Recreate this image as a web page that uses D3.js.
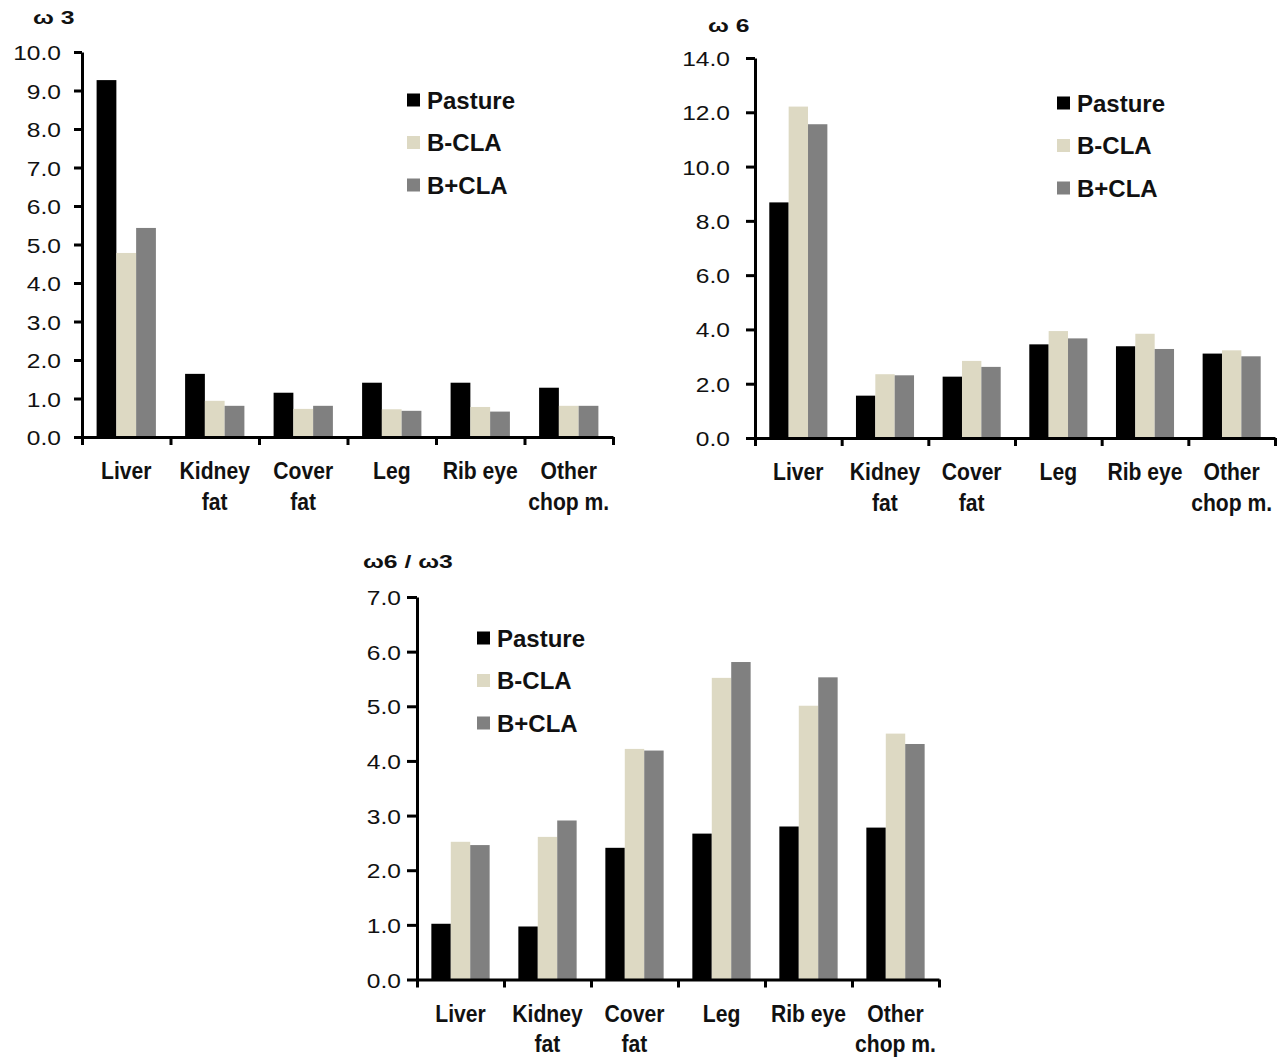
<!DOCTYPE html>
<html><head><meta charset="utf-8">
<script src="https://cdn.jsdelivr.net/npm/d3@7"></script>
<style>
body{margin:0;background:#fff;}
svg{display:block;font-family:"Liberation Sans",Arial,sans-serif;}
</style></head>
<body>
<svg id="chart" width="1279" height="1062"></svg>
<script>
const categories = [["Liver"],["Kidney","fat"],["Cover","fat"],["Leg"],["Rib eye"],["Other","chop m."]];
const series = ["Pasture","B-CLA","B+CLA"];
const colors = ["#000000","#DDD9C3","#808080"];

const omega3Pasture = [9.27,1.64,1.15,1.41,1.41,1.28];
const omega3BminusCLA = [4.78,0.94,0.73,0.72,0.78,0.81];
const omega3BplusCLA = [5.43,0.81,0.81,0.68,0.66,0.81];
const omega3Ticks = [0,1,2,3,4,5,6,7,8,9,10];

const omega6Pasture = [8.68,1.56,2.26,3.45,3.38,3.11];
const omega6BminusCLA = [12.21,2.35,2.84,3.94,3.84,3.23];
const omega6BplusCLA = [11.56,2.31,2.62,3.67,3.28,3.01];
const omega6Ticks = [0,2,4,6,8,10,12,14];

const ratioPasture = [1.02,0.97,2.41,2.67,2.80,2.78];
const ratioBminusCLA = [2.52,2.61,4.22,5.52,5.01,4.50];
const ratioBplusCLA = [2.46,2.91,4.19,5.81,5.53,4.31];
const ratioTicks = [0,1,2,3,4,5,6,7];

const svg = d3.select("#chart");

const panels = [
  {title:"ω 3", data:[omega3Pasture,omega3BminusCLA,omega3BplusCLA], ticks:omega3Ticks,
   x0:82, x1:613, yTop:52, yZero:437, titleX:33, titleY:24, tickGap:21, tickLen:8,
   legX:407, legY:100},
  {title:"ω 6", data:[omega6Pasture,omega6BminusCLA,omega6BplusCLA], ticks:omega6Ticks,
   x0:755, x1:1275, yTop:58, yZero:438, titleX:708, titleY:32, tickGap:25, tickLen:9,
   legX:1057, legY:103},
  {title:"ω6 / ω3", data:[ratioPasture,ratioBminusCLA,ratioBplusCLA], ticks:ratioTicks,
   x0:417, x1:939, yTop:597, yZero:979.5, titleX:363, titleY:568, tickGap:16, tickLen:10,
   legX:477, legY:638}
];

panels.forEach(p => {
  const g = svg.append("g");
  const y = d3.scaleLinear().domain([0, d3.max(p.ticks)]).range([p.yZero, p.yTop]);
  const xb = d3.scaleBand().domain(d3.range(categories.length)).range([p.x0, p.x1]).padding(0);
  const bw = xb.bandwidth();
  const xs = d3.scaleBand().domain(series).range([bw*0.165, bw*0.835]).padding(0);

  // bars
  series.forEach((s, si) => {
    g.append("g").selectAll("rect").data(p.data[si]).join("rect")
      .attr("x", (d,i) => xb(i) + xs(s))
      .attr("width", xs.bandwidth())
      .attr("y", d => y(d))
      .attr("height", d => y(0) - y(d))
      .attr("fill", colors[si]);
  });

  // y axis
  const ya = g.append("g").attr("transform", `translate(${p.x0},0)`)
    .call(d3.axisLeft(y).tickValues(p.ticks).tickFormat(d3.format(".1f")).tickSize(p.tickLen).tickSizeOuter(0));
  ya.select(".domain").attr("stroke","#000").attr("stroke-width",3);
  ya.selectAll(".tick line").attr("stroke","#000").attr("stroke-width",3);
  ya.selectAll(".tick text")
    .attr("x", 0).attr("dy","0.36em")
    .attr("transform", `translate(${-p.tickGap},0) scale(1.17,1)`)
    .attr("font-size", 21).attr("fill","#111").attr("font-family","Liberation Sans, Arial, sans-serif");

  // x axis with boundary ticks
  const xl = d3.scaleLinear().domain([0, categories.length]).range([p.x0, p.x1]);
  const xa = g.append("g").attr("transform", `translate(0,${p.yZero})`)
    .call(d3.axisBottom(xl).tickValues(d3.range(categories.length+1)).tickFormat("").tickSize(8).tickSizeOuter(0));
  xa.select(".domain").attr("stroke","#000").attr("stroke-width",3);
  xa.selectAll(".tick line").attr("stroke","#000").attr("stroke-width",3);

  // category labels
  categories.forEach((lines, i) => {
    const cx = xb(i) + bw/2;
    const t = g.append("text")
      .attr("transform", `translate(${cx},${p.yZero + 42}) scale(0.88,1)`)
      .attr("text-anchor","middle").attr("font-weight","bold").attr("font-size",24).attr("fill","#111");
    lines.forEach((ln, k) => {
      t.append("tspan").attr("x", 0).attr("dy", k === 0 ? 0 : 31).text(ln);
    });
  });

  // title
  g.append("text").attr("transform", `translate(${p.titleX},${p.titleY}) scale(1.3,1)`)
    .attr("font-weight","bold").attr("font-size",19).attr("fill","#111").text(p.title);

  // legend
  series.forEach((s, si) => {
    const cy = p.legY + si*42.5;
    g.append("rect").attr("x", p.legX).attr("y", cy-6.5).attr("width",13).attr("height",13).attr("fill",colors[si]);
    g.append("text").attr("x", p.legX + 20).attr("y", cy + 8.5)
      .attr("font-weight","bold").attr("font-size",24).attr("fill","#111").text(s);
  });
});
</script>
</body></html>
